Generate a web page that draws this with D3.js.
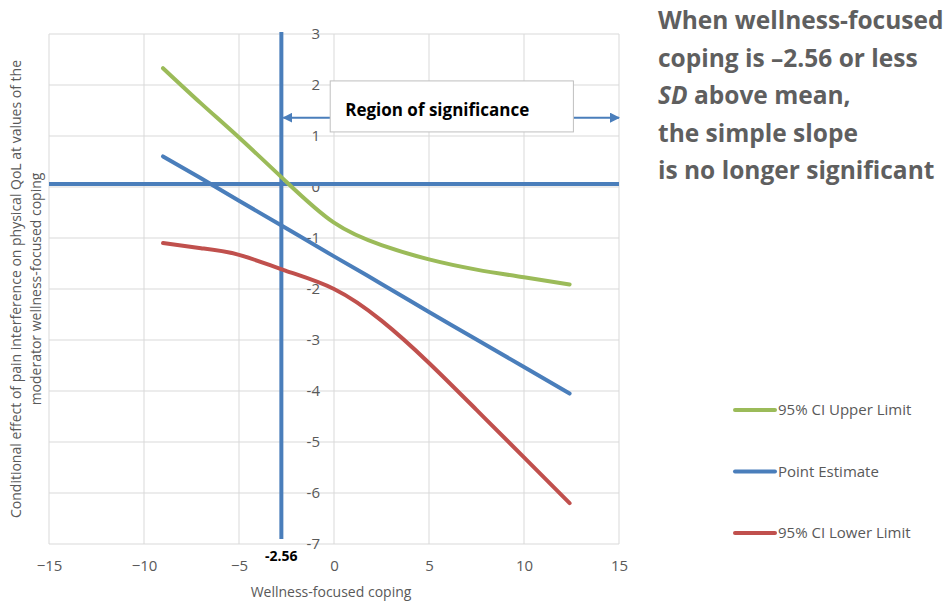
<!DOCTYPE html>
<html>
<head>
<meta charset="utf-8">
<script src="https://cdn.jsdelivr.net/npm/d3@7"></script>
<style>
  body { margin: 0; background: #fff; }
  text { font-family: "Open Sans", "Noto Sans", sans-serif; }
</style>
</head>
<body>
<div id="chart"></div>
<script>
// data
const xValues = [-9, -7, -5, -2.56, 0, 2.5, 5, 7.5, 10, 12.4]
const upperLimit = [2.33, 1.64, 0.97, 0.12, -0.7, -1.14, -1.42, -1.62, -1.77, -1.91]
const pointEstimate = [0.6, 0.17, -0.27, -0.8, -1.36, -1.9, -2.45, -2.99, -3.53, -4.05]
const lowerLimit = [-1.1, -1.2, -1.33, -1.64, -2.0, -2.62, -3.45, -4.37, -5.3, -6.2]
const xTicks = [-15, -10, -5, 0, 5, 10, 15]
const yTicks = [3, 2, 1, 0, -1, -2, -3, -4, -5, -6, -7]
const jnPoint = -2.56
const seriesNames = ["95% CI Upper Limit", "Point Estimate", "95% CI Lower Limit"]
const seriesColors = ["#9bbb59", "#4a7ebb", "#c0504d"]
const noteLines = ["When wellness-focused", "coping is \u20132.56 or less", "SD above mean,", "the simple slope", "is no longer significant"]

const dimensions = {
  width: 947,
  height: 603,
  margin: { top: 34, right: 328, bottom: 59, left: 49 },
}
dimensions.boundedWidth = dimensions.width - dimensions.margin.left - dimensions.margin.right
dimensions.boundedHeight = dimensions.height - dimensions.margin.top - dimensions.margin.bottom

const wrapper = d3.select("#chart").append("svg")
  .attr("width", dimensions.width)
  .attr("height", dimensions.height)

const bounds = wrapper.append("g")
  .attr("transform", `translate(${dimensions.margin.left},${dimensions.margin.top})`)

const xScale = d3.scaleLinear().domain([-15, 15]).range([0, dimensions.boundedWidth])
const yScale = d3.scaleLinear().domain([-7, 3]).range([dimensions.boundedHeight, 0])

// gridlines
bounds.append("g").selectAll("line").data(xTicks).join("line")
  .attr("x1", d => xScale(d)).attr("x2", d => xScale(d))
  .attr("y1", 0).attr("y2", dimensions.boundedHeight)
  .attr("stroke", "#d9d9d9").attr("stroke-width", 1)
bounds.append("g").selectAll("line").data(yTicks).join("line")
  .attr("x1", 0).attr("x2", dimensions.boundedWidth)
  .attr("y1", d => yScale(d)).attr("y2", d => yScale(d))
  .attr("stroke", "#d9d9d9").attr("stroke-width", 1)

// x axis labels
const xAxis = bounds.append("g")
  .attr("transform", `translate(0,${dimensions.boundedHeight})`)
  .call(d3.axisBottom(xScale).tickValues(xTicks).tickSize(0).tickPadding(16)
    .tickFormat(d => d < 0 ? "\u2212" + Math.abs(d) : d))
xAxis.select(".domain").remove()
xAxis.selectAll("text").attr("fill", "#595959").style("font-size", "15px")

// y axis labels sit at x = 0
const yAxis = bounds.append("g")
  .attr("transform", `translate(${xScale(0)},0)`)
  .call(d3.axisLeft(yScale).tickValues(yTicks).tickSize(0).tickPadding(14)
    .tickFormat(d => d < 0 ? "-" + Math.abs(d) : d))
yAxis.select(".domain").remove()
yAxis.selectAll("text").attr("fill", "#595959").style("font-size", "15px")

// reference lines
bounds.append("line")
  .attr("x1", 0).attr("x2", dimensions.boundedWidth)
  .attr("y1", yScale(0) - 3).attr("y2", yScale(0) - 3)
  .attr("stroke", "#4a7ebb").attr("stroke-width", 4)
bounds.append("line")
  .attr("x1", xScale(jnPoint) - 4).attr("x2", xScale(jnPoint) - 4)
  .attr("y1", -2).attr("y2", yScale(-6.9))
  .attr("stroke", "#4a7ebb").attr("stroke-width", 4)
bounds.append("text")
  .attr("x", xScale(jnPoint) - 4).attr("y", yScale(-7) + 17)
  .attr("text-anchor", "middle")
  .style("font-size", "14px").style("font-weight", "bold")
  .text(jnPoint.toFixed(2))

// data lines
const series = [upperLimit, pointEstimate, lowerLimit]
const lineGenerator = d3.line()
  .x((d, i) => xScale(xValues[i]))
  .y(d => yScale(d))
  .curve(d3.curveNatural)

bounds.append("g").selectAll("path").data(series).join("path")
  .attr("d", d => lineGenerator(d))
  .attr("fill", "none")
  .attr("stroke", (d, i) => seriesColors[i])
  .attr("stroke-width", 4)
  .attr("stroke-linecap", "round")

// region of significance arrows and box
const arrowY = yScale(1.36)
const defs = wrapper.append("defs")
defs.append("marker")
  .attr("id", "head")
  .attr("viewBox", "0 0 10 10").attr("refX", 9).attr("refY", 5)
  .attr("markerWidth", 5).attr("markerHeight", 5)
  .attr("orient", "auto-start-reverse")
  .append("path").attr("d", "M0,0L10,5L0,10Z").attr("fill", "#4a7ebb")

bounds.append("line")
  .attr("x1", xScale(-0.2)).attr("x2", xScale(jnPoint) - 2)
  .attr("y1", arrowY).attr("y2", arrowY)
  .attr("stroke", "#4a7ebb").attr("stroke-width", 2)
  .attr("marker-end", "url(#head)")
bounds.append("line")
  .attr("x1", xScale(12.6)).attr("x2", xScale(15))
  .attr("y1", arrowY).attr("y2", arrowY)
  .attr("stroke", "#4a7ebb").attr("stroke-width", 2)
  .attr("marker-end", "url(#head)")

bounds.append("rect")
  .attr("x", xScale(-0.2)).attr("y", yScale(2.08))
  .attr("width", xScale(12.6) - xScale(-0.2))
  .attr("height", yScale(1.08) - yScale(2.08))
  .attr("fill", "#fff").attr("stroke", "#bfbfbf").attr("stroke-width", 1)
bounds.append("text")
  .attr("x", xScale(-0.2) + 15).attr("y", yScale(1.5))
  .attr("dy", "0.35em")
  .style("font-size", "17px").style("font-weight", "bold")
  .text("Region of significance")

// axis titles
wrapper.append("text")
  .attr("x", dimensions.margin.left + xScale(0) - 3).attr("y", 597)
  .attr("text-anchor", "middle").attr("fill", "#595959")
  .style("font-size", "14px")
  .text("Wellness-focused coping")

const yTitle = wrapper.append("text")
  .attr("transform", `translate(16,${dimensions.margin.top + dimensions.boundedHeight / 2}) rotate(-90)`)
  .attr("text-anchor", "middle").attr("fill", "#595959")
  .style("font-size", "14px")
yTitle.append("tspan").attr("x", 0).attr("dy", "0.35em")
  .text("Conditional effect of pain interference on physical QoL at values of the")
yTitle.append("tspan").attr("x", 0).attr("dy", "1.45em")
  .text("moderator wellness-focused coping")

// note on the right
const note = wrapper.append("text")
  .attr("x", 658).attr("fill", "#5f5f5f")
  .style("font-size", "24.5px").style("font-weight", "bold")
noteLines.forEach((t, i) => {
  const ts = note.append("tspan").attr("x", 658).attr("y", 29 + i * 37.5)
  if (t.startsWith("SD")) {
    ts.append("tspan").style("font-style", "italic").text("SD")
    ts.append("tspan").text(t.slice(2))
  } else {
    ts.text(t)
  }
})

// legend
const legend = wrapper.append("g").selectAll("g").data(seriesNames).join("g")
  .attr("transform", (d, i) => `translate(735,${410 + i * 61.5})`)
legend.append("line")
  .attr("x1", 0).attr("x2", 40)
  .attr("stroke", (d, i) => seriesColors[i]).attr("stroke-width", 4)
  .attr("stroke-linecap", "round")
legend.append("text")
  .attr("x", 43).attr("dy", "0.35em")
  .attr("fill", "#595959").style("font-size", "15px")
  .text(d => d)
</script>
</body>
</html>
